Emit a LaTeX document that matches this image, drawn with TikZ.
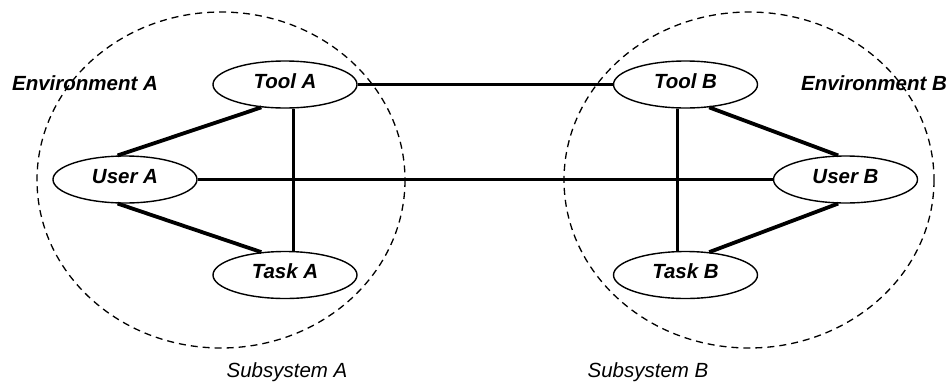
\documentclass[tikz,border=0pt]{standalone}
\usepackage{fontspec}
\setmainfont{Liberation Sans}
\usetikzlibrary{shapes.geometric}
\begin{document}
\begin{tikzpicture}[x=1pt,y=-1pt,
  actor/.style={ellipse,draw,line width=1.4pt,minimum width=144pt,minimum height=47pt,
    inner sep=0pt,text height=15pt,text depth=8pt,
    font=\fontsize{20.5}{24}\selectfont\bfseries\itshape},
  envlabel/.style={anchor=base,inner sep=0pt,font=\fontsize{20.5}{24}\selectfont\bfseries\itshape},
  sublabel/.style={anchor=base,inner sep=0pt,font=\fontsize{20.5}{24}\selectfont\itshape},
  boundary/.style={draw,line width=1.3pt,dash pattern=on 7pt off 5pt},
  link/.style={line width=3.8pt},
  vlink/.style={line width=3.2pt}]
\useasboundingbox (0,0) rectangle (952,381);

% subsystem boundaries
\draw[boundary] (221,180) ellipse [x radius=184, y radius=168];
\draw[boundary] (749,180) ellipse [x radius=185, y radius=168];

% environment and subsystem labels
\node[envlabel] (envA) at (85,90) {Environment A};
\node[envlabel] (envB) at (874,90) {Environment B};
\node[sublabel] (subA) at (287,377.5) {Subsystem A};
\node[sublabel] (subB) at (648,377.5) {Subsystem B};

% subsystem A
\node[actor] (toolA) at (285,84.5) {Tool A};
\node[actor] (userA) at (125,179.5) {User A};
\node[actor] (taskA) at (285,275) {Task A};

% subsystem B
\node[actor] (toolB) at (685.5,84.5) {Tool B};
\node[actor] (userB) at (845.5,179.5) {User B};
\node[actor] (taskB) at (685.5,275) {Task B};

% links inside A
\draw[link] (userA.107) -- (toolA.224);
\draw[link] (userA.253) -- (taskA.136);
\draw[vlink] (toolA.289) -- (taskA.71);

% links inside B
\draw[link] (toolB.316) -- (userB.107);
\draw[link] (userB.253) -- (taskB.44);
\draw[vlink] (toolB.251) -- (taskB.109);

% links between subsystems
\draw[link] (toolA.east) -- (toolB.west);
\draw[link] (userA.east) -- (userB.west);
\end{tikzpicture}
\end{document}
